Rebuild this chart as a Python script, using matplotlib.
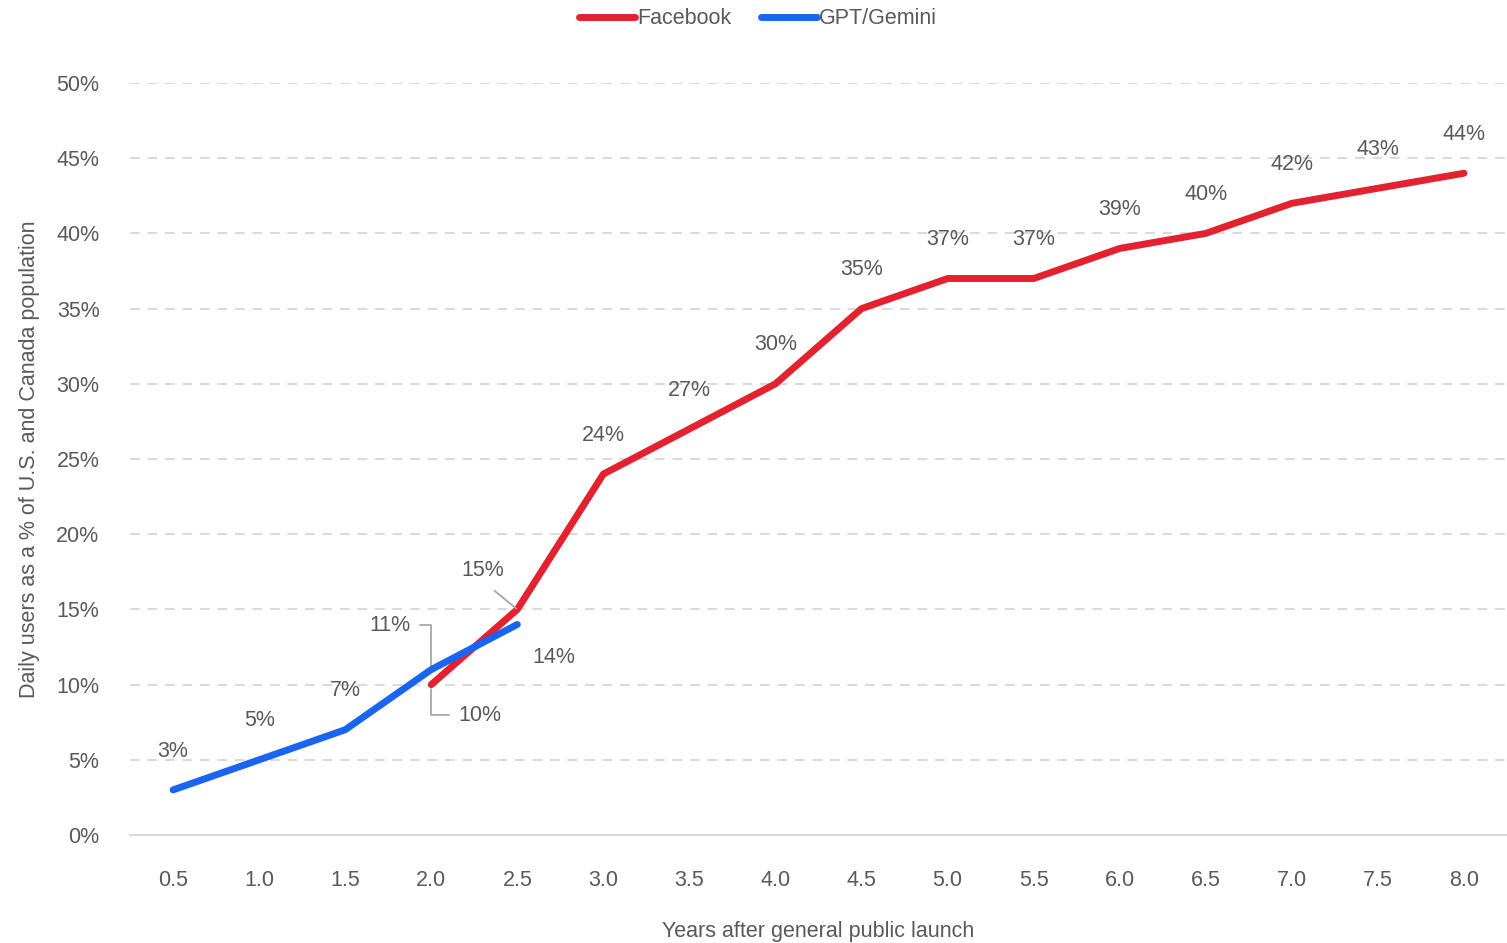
import matplotlib.pyplot as plt

# Data
years = [0.5, 1.0, 1.5, 2.0, 2.5, 3.0, 3.5, 4.0, 4.5, 5.0, 5.5, 6.0, 6.5, 7.0, 7.5, 8.0]
year_labels = [f'{y:.1f}' for y in years]

fb_years = [2.0, 2.5, 3.0, 3.5, 4.0, 4.5, 5.0, 5.5, 6.0, 6.5, 7.0, 7.5, 8.0]
fb_values = [10, 15, 24, 27, 30, 35, 37, 37, 39, 40, 42, 43, 44]

gpt_years = [0.5, 1.0, 1.5, 2.0, 2.5]
gpt_values = [3, 5, 7, 11, 14]

y_ticks = [0, 5, 10, 15, 20, 25, 30, 35, 40, 45, 50]

red = '#E3212F'
blue = '#1A64F2'
txt = '#595959'
lead = '#A6A6A6'
fs = 15.5

plt.rcParams['font.family'] = ['Liberation Sans', 'DejaVu Sans']

fig = plt.figure(figsize=(15.07, 9.43), dpi=100)
ax = fig.add_axes([0.0863, 0.1145, 0.9137, 0.7975])

ax.plot(fb_years, fb_values, color=red, lw=5, solid_capstyle='round', label='Facebook', zorder=3)
ax.plot(gpt_years, gpt_values, color=blue, lw=5, solid_capstyle='round', label='GPT/Gemini', zorder=4)

ax.set_xlim(0.25, 8.25)
ax.set_ylim(0, 50)
ax.set_xticks(years)
ax.set_xticklabels(year_labels)
ax.set_yticks(y_ticks)
ax.set_yticklabels([f'{v}%' for v in y_ticks])
ax.tick_params(length=0, labelsize=fs, colors=txt)
ax.tick_params(axis='x', pad=25)
ax.tick_params(axis='y', pad=22)

for v in y_ticks[1:]:
    ax.axhline(v, color='#D9D9D9', lw=1.4, ls=(0, (5, 4)), zorder=1)
for s in ['top', 'right', 'left']:
    ax.spines[s].set_visible(False)
ax.spines['bottom'].set_color('#D9D9D9')
ax.spines['bottom'].set_linewidth(1.4)

ax.set_xlabel('Years after general public launch', fontsize=fs, color=txt, labelpad=22)
ax.set_ylabel('Daily users as a % of U.S. and Canada population', fontsize=fs, color=txt, labelpad=12)

# plain labels above points
for x, v in zip(fb_years[2:], fb_values[2:]):
    ax.annotate(f'{v}%', (x, v), xytext=(0, 28), textcoords='offset points',
                ha='center', va='center', fontsize=fs, color=txt)
for x, v in zip(gpt_years[:3], gpt_values[:3]):
    ax.annotate(f'{v}%', (x, v), xytext=(0, 28), textcoords='offset points',
                ha='center', va='center', fontsize=fs, color=txt)

# callouts around the crossing
ax.annotate(f'{fb_values[1]}%', (fb_years[1], fb_values[1]), xytext=(-25, 28),
            textcoords='offset points', ha='center', va='center', fontsize=fs, color=txt,
            arrowprops=dict(arrowstyle='-', color=lead, lw=1.3, relpos=(0.5, 0),
                            shrinkA=8, shrinkB=1))
ax.annotate(f'{gpt_values[3]}%', (gpt_years[3], gpt_values[3]), xytext=(-30, 32),
            textcoords='offset points', ha='center', va='center', fontsize=fs, color=txt,
            arrowprops=dict(arrowstyle='-', color=lead, lw=1.3, relpos=(1, 0.5),
                            connectionstyle='angle,angleA=0,angleB=90,rad=0',
                            shrinkA=5, shrinkB=0))
ax.annotate(f'{fb_values[0]}%', (fb_years[0], fb_values[0]), xytext=(35, -22),
            textcoords='offset points', ha='center', va='center', fontsize=fs, color=txt,
            arrowprops=dict(arrowstyle='-', color=lead, lw=1.3, relpos=(0, 0.5),
                            connectionstyle='angle,angleA=0,angleB=90,rad=0',
                            shrinkA=5, shrinkB=3))
ax.annotate(f'{gpt_values[4]}%', (gpt_years[4], gpt_values[4]), xytext=(26, -24),
            textcoords='offset points', ha='center', va='center', fontsize=fs, color=txt)

fig.legend(loc='upper center', bbox_to_anchor=(0.503, 1.012), ncol=2, frameon=False,
           fontsize=fs, labelcolor=txt, handlelength=2.6, handletextpad=0.1,
           columnspacing=1.4)

fig.savefig('out.png', dpi=100)
